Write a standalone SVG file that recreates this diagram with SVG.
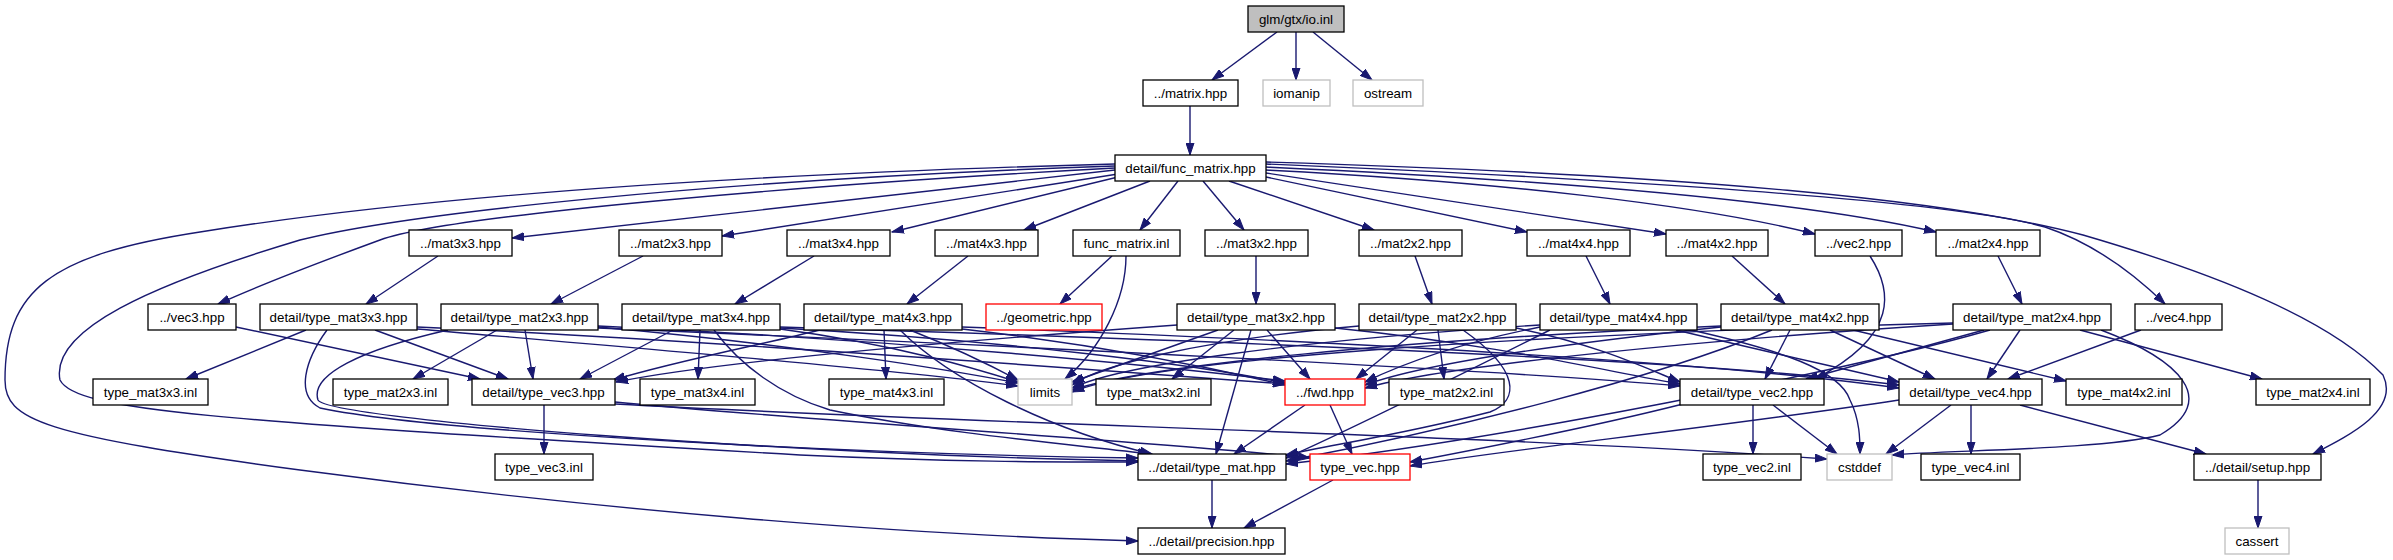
<svg xmlns="http://www.w3.org/2000/svg" width="2393" height="560" viewBox="0 0 2393 560">
<style>
.n rect{fill:#fff;stroke:#000;stroke-width:1.3}
.n.g rect{stroke:#bfbfbf}
.n.r rect{stroke:#ff0000}
.n.root rect{fill:#bfbfbf}
.n text{font-family:"Liberation Sans",Arial,sans-serif;font-size:13.33px;text-anchor:middle;fill:#000}
#edges path{fill:none;stroke:#191970;stroke-width:1.4;marker-end:url(#a)}
</style>
<defs>
<marker id="a" markerWidth="13" markerHeight="9" refX="12" refY="4.5" orient="auto" markerUnits="userSpaceOnUse">
<path d="M0,0.5 L12,4.5 L0,8.5 z" fill="#191970" stroke="#191970" stroke-width="1"/>
</marker>
</defs>
<rect width="2393" height="560" fill="#fff"/>
<g id="edges">
<path d="M1277,32 L1212,80"/>
<path d="M1296,32 L1296,80"/>
<path d="M1313,32 L1372,80"/>
<path d="M1190,106 L1190,155"/>
<path d="M1115,170 L512,238"/>
<path d="M1118,174 L722,236"/>
<path d="M1118,177 L892,232"/>
<path d="M1150,181 L1024,230"/>
<path d="M1178,181 L1140,230"/>
<path d="M1203,181 L1244,230"/>
<path d="M1229,181 L1374,230"/>
<path d="M1266,177 L1527,232"/>
<path d="M1266,173 L1666,234"/>
<path d="M1266,170 C1500,182 1700,205 1815,234"/>
<path d="M1266,167 C1550,180 1800,200 1936,232"/>
<path d="M1266,164 C1600,178 1950,200 2045,227 C2090,242 2130,270 2165,304"/>
<path d="M1266,162 C1700,175 1950,200 2083,235 C2220,275 2330,320 2383,375 C2400,410 2350,435 2313,454"/>
<path d="M1115,168 C800,185 450,215 380,240 C320,262 260,285 218,304"/>
<path d="M1115,166 C700,180 400,215 300,240 C150,285 50,330 60,380 C75,410 200,420 800,455 C950,462 1050,462 1138,462"/>
<path d="M1115,164 C700,175 400,200 200,232 C50,255 5,290 5,380 C5,420 40,435 300,470 C600,510 900,535 1138,541"/>
<path d="M438,256 L366,304"/>
<path d="M643,256 L551,304"/>
<path d="M814,256 L735,304"/>
<path d="M968,256 L907,304"/>
<path d="M1112,256 L1060,304"/>
<path d="M1126,256 C1126,300 1100,350 1065,379"/>
<path d="M1256,256 L1256,304"/>
<path d="M1415,256 L1432,304"/>
<path d="M1586,256 L1610,304"/>
<path d="M1732,256 L1785,304"/>
<path d="M1870,256 C1892,290 1900,335 1815,379"/>
<path d="M1998,256 L2022,304"/>
<path d="M2141,330 L2008,379"/>
<path d="M236,327 L480,379"/>
<path d="M306,330 L186,379"/>
<path d="M375,330 L508,379"/>
<path d="M327,330 C305,360 295,395 320,408 C450,435 900,455 1138,458"/>
<path d="M417,329 C600,345 900,370 1018,386"/>
<path d="M417,327 C700,340 1100,370 1285,384"/>
<path d="M497,330 L413,379"/>
<path d="M525,330 L533,379"/>
<path d="M448,330 C360,350 310,375 318,400 C330,420 800,455 1138,461"/>
<path d="M598,328 C1000,345 1500,370 1680,386"/>
<path d="M598,327 C800,345 950,370 1018,383"/>
<path d="M598,326 C900,340 1150,365 1285,381"/>
<path d="M700,330 L698,379"/>
<path d="M673,330 L580,379"/>
<path d="M714,330 C740,365 780,395 830,410 C950,435 1080,445 1150,454"/>
<path d="M780,327 C1200,340 1700,360 1899,385"/>
<path d="M780,329 C900,345 980,370 1018,382"/>
<path d="M780,328 C1000,340 1200,365 1285,383"/>
<path d="M884,330 L886,379"/>
<path d="M820,330 C760,345 680,360 613,380"/>
<path d="M900,330 C950,380 1050,430 1152,454"/>
<path d="M910,330 C960,350 990,365 1018,380"/>
<path d="M962,329 C1100,345 1200,365 1285,385"/>
<path d="M962,327 C1300,340 1700,360 1899,388"/>
<path d="M1234,330 L1172,379"/>
<path d="M1267,330 L1310,379"/>
<path d="M1251,330 L1216,454"/>
<path d="M1218,330 L1072,382"/>
<path d="M1177,325 C900,345 700,365 616,382"/>
<path d="M1335,328 C1500,345 1600,370 1680,384"/>
<path d="M1438,330 L1444,379"/>
<path d="M1417,330 L1356,379"/>
<path d="M1463,330 C1520,370 1520,400 1490,412 C1400,435 1330,445 1286,455"/>
<path d="M1359,326 C1200,340 1100,365 1072,385"/>
<path d="M1516,328 C1600,345 1650,370 1680,382"/>
<path d="M1540,327 C1450,345 1400,365 1365,382"/>
<path d="M1540,325 C1300,340 1120,365 1072,388"/>
<path d="M1550,330 C1450,380 1350,430 1286,458"/>
<path d="M1676,330 C1780,355 1850,370 1899,382"/>
<path d="M1691,330 C1780,350 1840,370 1850,400 C1860,420 1860,440 1860,454"/>
<path d="M1853,330 L2066,381"/>
<path d="M1790,330 L1765,379"/>
<path d="M1830,330 L1935,379"/>
<path d="M1721,327 C1550,345 1420,365 1365,385"/>
<path d="M1721,326 C1400,340 1150,365 1072,390"/>
<path d="M1772,330 C1650,380 1450,430 1286,461"/>
<path d="M2080,330 L2262,379"/>
<path d="M2020,330 L1987,379"/>
<path d="M1984,330 L1806,379"/>
<path d="M1953,324 C1700,340 1450,365 1365,388"/>
<path d="M1953,323 C1500,335 1150,360 1072,392"/>
<path d="M1990,330 C1850,370 1500,440 1286,464"/>
<path d="M2101,330 C2180,360 2220,400 2160,435 C2100,450 1950,450 1892,455"/>
<path d="M544,405 L544,454"/>
<path d="M615,402 C800,420 1200,445 1310,458"/>
<path d="M615,404 C1000,425 1500,435 1827,459"/>
<path d="M1753,405 L1753,454"/>
<path d="M1773,405 L1837,454"/>
<path d="M1683,404 C1600,425 1500,445 1410,462"/>
<path d="M1971,405 L1971,454"/>
<path d="M1951,405 L1886,454"/>
<path d="M1899,400 C1700,430 1500,450 1410,466"/>
<path d="M2020,405 L2206,454"/>
<path d="M1305,405 L1234,454"/>
<path d="M1330,405 L1352,454"/>
<path d="M1212,480 L1212,528"/>
<path d="M1333,480 L1244,528"/>
<path d="M2258,480 L2258,528"/>
</g>
<g id="n_io" class="n root"><rect x="1248" y="6" width="96" height="26"/><text x="1296" y="23.5">glm/gtx/io.inl</text></g>
<g id="n_matrix" class="n"><rect x="1143" y="80" width="95" height="26"/><text x="1190.5" y="97.5">../matrix.hpp</text></g>
<g id="n_iomanip" class="n g"><rect x="1263" y="80" width="67" height="26"/><text x="1296.5" y="97.5">iomanip</text></g>
<g id="n_ostream" class="n g"><rect x="1353" y="80" width="70" height="26"/><text x="1388" y="97.5">ostream</text></g>
<g id="n_func" class="n"><rect x="1115" y="155" width="151" height="26"/><text x="1190.5" y="172.5">detail/func_matrix.hpp</text></g>
<g id="n_mat3x3" class="n"><rect x="409" y="230" width="103" height="26"/><text x="460.5" y="247.5">../mat3x3.hpp</text></g>
<g id="n_mat2x3" class="n"><rect x="619" y="230" width="103" height="26"/><text x="670.5" y="247.5">../mat2x3.hpp</text></g>
<g id="n_mat3x4" class="n"><rect x="787" y="230" width="103" height="26"/><text x="838.5" y="247.5">../mat3x4.hpp</text></g>
<g id="n_mat4x3" class="n"><rect x="935" y="230" width="103" height="26"/><text x="986.5" y="247.5">../mat4x3.hpp</text></g>
<g id="n_fminl" class="n"><rect x="1073" y="230" width="107" height="26"/><text x="1126.5" y="247.5">func_matrix.inl</text></g>
<g id="n_mat3x2" class="n"><rect x="1205" y="230" width="103" height="26"/><text x="1256.5" y="247.5">../mat3x2.hpp</text></g>
<g id="n_mat2x2" class="n"><rect x="1359" y="230" width="103" height="26"/><text x="1410.5" y="247.5">../mat2x2.hpp</text></g>
<g id="n_mat4x4" class="n"><rect x="1527" y="230" width="103" height="26"/><text x="1578.5" y="247.5">../mat4x4.hpp</text></g>
<g id="n_mat4x2" class="n"><rect x="1666" y="230" width="102" height="26"/><text x="1717" y="247.5">../mat4x2.hpp</text></g>
<g id="n_vec2" class="n"><rect x="1815" y="230" width="87" height="26"/><text x="1858.5" y="247.5">../vec2.hpp</text></g>
<g id="n_mat2x4" class="n"><rect x="1936" y="230" width="104" height="26"/><text x="1988" y="247.5">../mat2x4.hpp</text></g>
<g id="n_vec3" class="n"><rect x="148" y="304" width="88" height="26"/><text x="192" y="321.5">../vec3.hpp</text></g>
<g id="n_tm3x3" class="n"><rect x="260" y="304" width="157" height="26"/><text x="338.5" y="321.5">detail/type_mat3x3.hpp</text></g>
<g id="n_tm2x3" class="n"><rect x="441" y="304" width="157" height="26"/><text x="519.5" y="321.5">detail/type_mat2x3.hpp</text></g>
<g id="n_tm3x4" class="n"><rect x="622" y="304" width="158" height="26"/><text x="701" y="321.5">detail/type_mat3x4.hpp</text></g>
<g id="n_tm4x3" class="n"><rect x="804" y="304" width="158" height="26"/><text x="883" y="321.5">detail/type_mat4x3.hpp</text></g>
<g id="n_geometric" class="n r"><rect x="986" y="304" width="116" height="26"/><text x="1044" y="321.5">../geometric.hpp</text></g>
<g id="n_tm3x2" class="n"><rect x="1177" y="304" width="158" height="26"/><text x="1256" y="321.5">detail/type_mat3x2.hpp</text></g>
<g id="n_tm2x2" class="n"><rect x="1359" y="304" width="157" height="26"/><text x="1437.5" y="321.5">detail/type_mat2x2.hpp</text></g>
<g id="n_tm4x4" class="n"><rect x="1540" y="304" width="157" height="26"/><text x="1618.5" y="321.5">detail/type_mat4x4.hpp</text></g>
<g id="n_tm4x2" class="n"><rect x="1721" y="304" width="158" height="26"/><text x="1800" y="321.5">detail/type_mat4x2.hpp</text></g>
<g id="n_tm2x4" class="n"><rect x="1953" y="304" width="158" height="26"/><text x="2032" y="321.5">detail/type_mat2x4.hpp</text></g>
<g id="n_vec4" class="n"><rect x="2135" y="304" width="87" height="26"/><text x="2178.5" y="321.5">../vec4.hpp</text></g>
<g id="n_tm3x3i" class="n"><rect x="93" y="379" width="115" height="26"/><text x="150.5" y="396.5">type_mat3x3.inl</text></g>
<g id="n_tm2x3i" class="n"><rect x="333" y="379" width="115" height="26"/><text x="390.5" y="396.5">type_mat2x3.inl</text></g>
<g id="n_tv3" class="n"><rect x="472" y="379" width="143" height="26"/><text x="543.5" y="396.5">detail/type_vec3.hpp</text></g>
<g id="n_tm3x4i" class="n"><rect x="640" y="379" width="115" height="26"/><text x="697.5" y="396.5">type_mat3x4.inl</text></g>
<g id="n_tm4x3i" class="n"><rect x="829" y="379" width="115" height="26"/><text x="886.5" y="396.5">type_mat4x3.inl</text></g>
<g id="n_limits" class="n g"><rect x="1018" y="379" width="54" height="26"/><text x="1045" y="396.5">limits</text></g>
<g id="n_tm3x2i" class="n"><rect x="1096" y="379" width="115" height="26"/><text x="1153.5" y="396.5">type_mat3x2.inl</text></g>
<g id="n_fwd" class="n r"><rect x="1285" y="379" width="80" height="26"/><text x="1325" y="396.5">../fwd.hpp</text></g>
<g id="n_tm2x2i" class="n"><rect x="1389" y="379" width="115" height="26"/><text x="1446.5" y="396.5">type_mat2x2.inl</text></g>
<g id="n_tv2" class="n"><rect x="1680" y="379" width="144" height="26"/><text x="1752" y="396.5">detail/type_vec2.hpp</text></g>
<g id="n_tv4" class="n"><rect x="1899" y="379" width="143" height="26"/><text x="1970.5" y="396.5">detail/type_vec4.hpp</text></g>
<g id="n_tm4x2i" class="n"><rect x="2066" y="379" width="116" height="26"/><text x="2124" y="396.5">type_mat4x2.inl</text></g>
<g id="n_tm2x4i" class="n"><rect x="2256" y="379" width="114" height="26"/><text x="2313" y="396.5">type_mat2x4.inl</text></g>
<g id="n_tv3i" class="n"><rect x="495" y="454" width="98" height="26"/><text x="544" y="471.5">type_vec3.inl</text></g>
<g id="n_tmat" class="n"><rect x="1138" y="454" width="148" height="26"/><text x="1212" y="471.5">../detail/type_mat.hpp</text></g>
<g id="n_tvec" class="n r"><rect x="1310" y="454" width="100" height="26"/><text x="1360" y="471.5">type_vec.hpp</text></g>
<g id="n_tv2i" class="n"><rect x="1703" y="454" width="98" height="26"/><text x="1752" y="471.5">type_vec2.inl</text></g>
<g id="n_cstddef" class="n g"><rect x="1827" y="454" width="65" height="26"/><text x="1859.5" y="471.5">cstddef</text></g>
<g id="n_tv4i" class="n"><rect x="1921" y="454" width="99" height="26"/><text x="1970.5" y="471.5">type_vec4.inl</text></g>
<g id="n_setup" class="n"><rect x="2194" y="454" width="127" height="26"/><text x="2257.5" y="471.5">../detail/setup.hpp</text></g>
<g id="n_precision" class="n"><rect x="1138" y="528" width="147" height="26"/><text x="1211.5" y="545.5">../detail/precision.hpp</text></g>
<g id="n_cassert" class="n g"><rect x="2225" y="528" width="64" height="26"/><text x="2257" y="545.5">cassert</text></g>
</svg>
